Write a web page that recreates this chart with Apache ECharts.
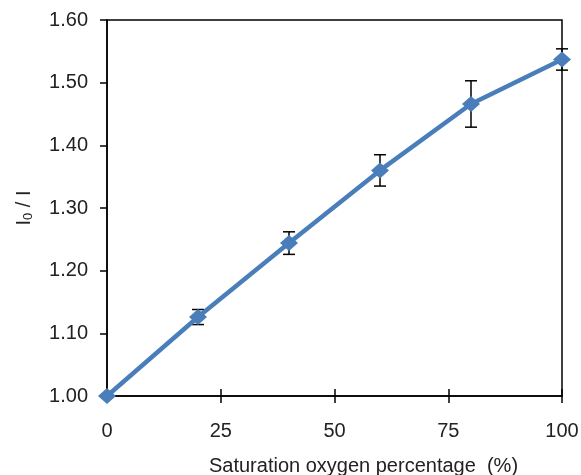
<!DOCTYPE html>
<html>
<head>
<meta charset="utf-8">
<script src="https://cdn.jsdelivr.net/npm/echarts@6/dist/echarts.min.js"></script>
<style>
  html, body { margin: 0; padding: 0; background: #fff; }
  #chart { width: 581px; height: 475px; }
</style>
</head>
<body>
<div id="chart"></div>
<script>
const xValues = [0, 20, 40, 60, 80, 100]
const ratioValues = [1.000, 1.126, 1.244, 1.360, 1.466, 1.537]
const errValues = [0, 0.012, 0.018, 0.025, 0.037, 0.017]

const font = 'Liberation Sans, Arial, sans-serif'
const chart = echarts.init(document.getElementById('chart'))

const lineData = xValues.map((x, i) => [x, ratioValues[i]])
const errData = xValues.map((x, i) => [x, ratioValues[i] - errValues[i], ratioValues[i] + errValues[i]])

const renderErr = (params, api) => {
  const lo = api.coord([api.value(0), api.value(1)])
  const hi = api.coord([api.value(0), api.value(2)])
  const half = 6
  const style = { stroke: '#000', lineWidth: 1.5 }
  return {
    type: 'group',
    children: [
      { type: 'line', shape: { x1: lo[0], y1: lo[1], x2: hi[0], y2: hi[1] }, style },
      { type: 'line', shape: { x1: lo[0] - half, y1: lo[1], x2: lo[0] + half, y2: lo[1] }, style },
      { type: 'line', shape: { x1: hi[0] - half, y1: hi[1], x2: hi[0] + half, y2: hi[1] }, style },
    ],
  }
}

const option = {
  animation: false,
  textStyle: { fontFamily: font },
  grid: {
    left: 107, right: 19, top: 20, bottom: 79,
    outerBoundsMode: 'none',
    containLabel: false,
    show: true, borderColor: '#000', borderWidth: 1.5,
  },
  xAxis: [
    {
      type: 'value',
      min: 0,
      max: 100,
      interval: 25,
      splitLine: { show: false },
      axisLine: { lineStyle: { color: '#000', width: 1.5 } },
      axisTick: { inside: false, length: 7, lineStyle: { color: '#000', width: 1.5 } },
      axisLabel: { color: '#222', fontSize: 20, margin: 25, fontFamily: font },
      name: 'Saturation oxygen percentage  (%)',
      nameLocation: 'middle',
      nameGap: 60,
      nameTextStyle: { color: '#222', fontSize: 20, fontFamily: font, padding: [0, 0, 0, 58] },
    },
    {
      // inner half of the crossing ticks
      type: 'value',
      position: 'bottom',
      offset: 0,
      min: 0,
      max: 100,
      interval: 25,
      splitLine: { show: false },
      axisLine: { show: false },
      axisTick: { inside: true, length: 7, lineStyle: { color: '#000', width: 1.5 } },
      axisLabel: { show: false },
    },
  ],
  yAxis: {
    type: 'value',
    min: 1.0,
    max: 1.6,
    interval: 0.1,
    splitLine: { show: false },
    axisLine: { lineStyle: { color: '#000', width: 1.5 } },
    axisTick: { length: 7, lineStyle: { color: '#000', width: 1.5 } },
    axisLabel: { color: '#222', fontSize: 20, margin: 19, fontFamily: font, formatter: v => v.toFixed(2) },
    name: '{a|I}{b|0}{a| / I}',
    nameLocation: 'middle',
    nameGap: 72,
    nameRotate: 90,
    nameTextStyle: {
      rich: {
        a: { fontSize: 20, color: '#222', fontFamily: font },
        b: { fontSize: 13, color: '#222', fontFamily: font, verticalAlign: 'bottom', padding: [9, 0, 0, 0] },
      },
    },
  },
  series: [
    {
      type: 'custom',
      data: errData,
      renderItem: renderErr,
      encode: { x: 0, y: [1, 2] },
      z: 1,
    },
    {
      type: 'line',
      data: lineData,
      symbol: 'diamond',
      symbolSize: [18, 16],
      lineStyle: { color: '#4A7EBB', width: 4.5 },
      itemStyle: { color: '#4A7EBB' },
      z: 2,
    },
  ],
}

chart.setOption(option)
</script>
</body>
</html>
